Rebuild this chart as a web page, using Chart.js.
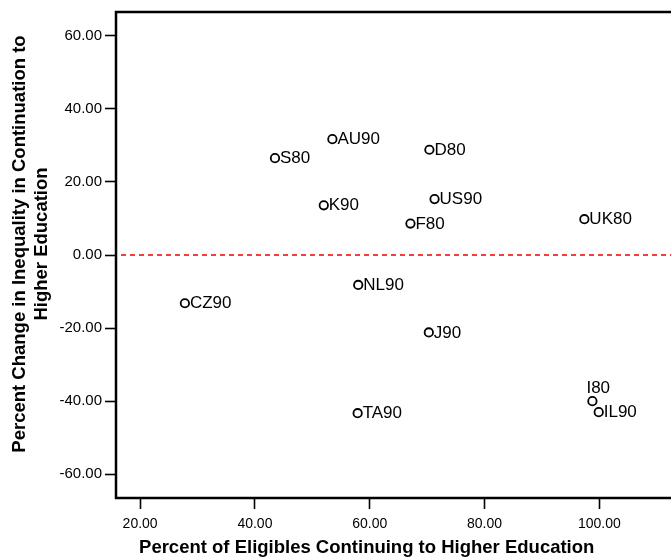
<!DOCTYPE html>
<html>
<head>
<meta charset="utf-8">
<script src="https://cdn.jsdelivr.net/npm/chart.js@4/dist/chart.umd.min.js"></script>
<style>
  html, body { margin: 0; padding: 0; background: #fff; overflow: hidden; }
  #wrap { width: 700px; height: 559px; }
</style>
</head>
<body>
<div id="wrap"><canvas id="c" width="700" height="559"></canvas></div>
<script>
// Country/period cases
const caseLabels = ['AU90', 'S80', 'D80', 'K90', 'US90', 'F80', 'UK80',
                    'CZ90', 'NL90', 'J90', 'TA90', 'I80', 'IL90'];
// Percent of eligibles continuing to higher education
const pctContinuing = [53.5, 43.5, 70.4, 52.0, 71.3, 67.1, 97.4,
                       27.8, 58.0, 70.3, 57.9, 98.8, 99.9];
// Percent change in inequality in continuation
const pctChangeInequality = [31.7, 26.5, 28.8, 13.6, 15.3, 8.6, 9.8,
                             -13.2, -8.2, -21.2, -43.3, -40.0, -43.0];

const xTicks = [20, 40, 60, 80, 100];
const yTicks = [-60, -40, -20, 0, 20, 40, 60];
const referenceY = 0;

const FONT = "'Liberation Sans', Arial, Helvetica, sans-serif";

// Labels that sit above their marker to stay clear of a neighbour
const labelAbove = new Set(['I80']);

const pointLabels = {
  id: 'pointLabels',
  afterDatasetsDraw(chart) {
    const meta = chart.getDatasetMeta(1);
    const ctx = chart.ctx;
    ctx.save();
    ctx.font = '17px ' + FONT;
    ctx.fillStyle = '#000';
    ctx.textAlign = 'left';
    ctx.textBaseline = 'middle';
    meta.data.forEach((pt, i) => {
      const name = caseLabels[i];
      if (labelAbove.has(name)) {
        ctx.fillText(name, pt.x - 6, pt.y - 13);
      } else {
        ctx.fillText(name, pt.x + 5, pt.y + 0.5);
      }
    });
    ctx.restore();
  }
};

const frameAndTitles = {
  id: 'frameAndTitles',
  afterDraw(chart) {
    const ctx = chart.ctx;
    const a = chart.chartArea;
    ctx.save();
    ctx.strokeStyle = '#000';
    ctx.lineWidth = 2.5;
    ctx.strokeRect(a.left, a.top, a.right - a.left, a.bottom - a.top);

    ctx.fillStyle = '#000';
    ctx.font = 'bold 18.5px ' + FONT;
    ctx.textAlign = 'center';
    ctx.textBaseline = 'alphabetic';
    const xs = chart.scales.x;
    ctx.fillText('Percent of Eligibles Continuing to Higher Education',
                 xs.getPixelForValue(60) - 3, 553);

    ctx.save();
    ctx.translate(26, 244);
    ctx.rotate(-Math.PI / 2);
    ctx.textBaseline = 'middle';
    ctx.fillText('Percent Change in Inequality in Continuation to', 0, -6);
    ctx.fillText('Higher Education', 0, 16);
    ctx.restore();
    ctx.restore();
  }
};

new Chart(document.getElementById('c'), {
  data: {
    datasets: [
      {
        type: 'line',
        data: [{ x: 15.8, y: referenceY }, { x: 116.5, y: referenceY }],
        borderColor: 'rgb(235, 0, 0)',
        borderWidth: 1.5,
        borderDash: [5, 4],
        borderDashOffset: 4,
        pointRadius: 0,
        fill: false
      },
      {
        type: 'scatter',
        data: pctContinuing.map((x, i) => ({ x, y: pctChangeInequality[i] })),
        pointRadius: 4.2,
        pointBorderWidth: 1.8,
        pointBorderColor: '#000',
        pointBackgroundColor: '#fff',
        pointHoverRadius: 4.2
      }
    ]
  },
  options: {
    responsive: false,
    animation: false,
    events: [],
    layout: { padding: { top: 10, right: 5, left: 0, bottom: 0 } },
    plugins: { legend: { display: false }, tooltip: { enabled: false }, title: { display: false } },
    scales: {
      x: {
        type: 'linear',
        min: 15.8,
        max: 116.5,
        afterBuildTicks(scale) { scale.ticks = xTicks.map(v => ({ value: v })); },
        afterFit(scale) { scale.height = 61; },
        border: { display: false },
        grid: { drawOnChartArea: false, drawTicks: true, tickLength: 11, tickColor: '#000', tickWidth: 1.6 },
        ticks: {
          color: '#000', padding: 7, maxRotation: 0,
          font: { family: FONT, size: 14 },
          callback: v => Number(v).toFixed(2)
        }
      },
      y: {
        type: 'linear',
        min: -66.5,
        max: 66.5,
        afterBuildTicks(scale) { scale.ticks = yTicks.map(v => ({ value: v })); },
        afterFit(scale) { scale.width = 116; },
        border: { display: false },
        grid: { drawOnChartArea: false, drawTicks: true, tickLength: 11, tickColor: '#000', tickWidth: 1.6 },
        ticks: {
          color: '#000', padding: 3,
          font: { family: FONT, size: 15 },
          callback: v => Number(v).toFixed(2)
        }
      }
    }
  },
  plugins: [pointLabels, frameAndTitles]
});
</script>
</body>
</html>
